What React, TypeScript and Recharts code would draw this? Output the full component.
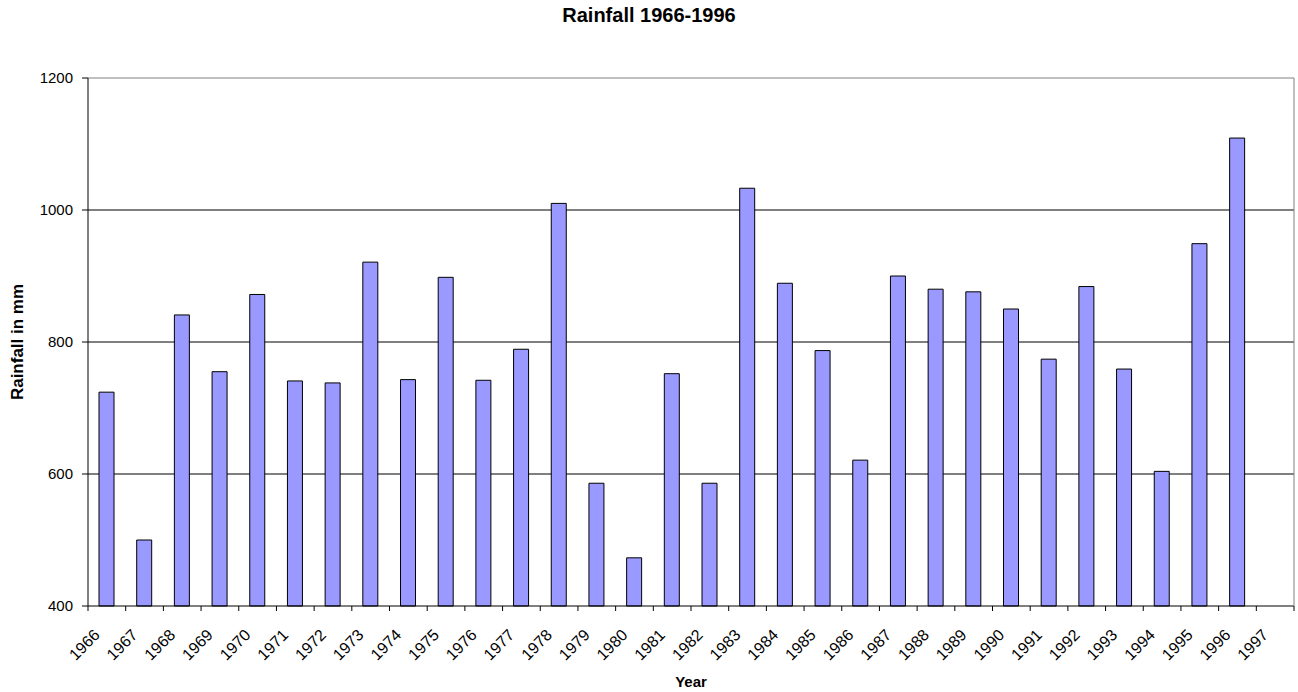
import { BarChart, Bar, XAxis, YAxis, CartesianGrid, ReferenceLine, Label } from 'recharts'

const years = [
  '1966', '1967', '1968', '1969', '1970', '1971', '1972', '1973',
  '1974', '1975', '1976', '1977', '1978', '1979', '1980', '1981',
  '1982', '1983', '1984', '1985', '1986', '1987', '1988', '1989',
  '1990', '1991', '1992', '1993', '1994', '1995', '1996', '1997',
]

// mm per year; 1997 has no reading (empty slot at the right end)
const rainfall: (number | null)[] = [
  724, 500, 841, 755, 872, 741, 738, 921,
  743, 898, 742, 789, 1010, 586, 473, 752,
  586, 1033, 889, 787, 621, 900, 880, 876,
  850, 774, 884, 759, 604, 949, 1109, null,
]

const yTicks = [400, 600, 800, 1000, 1200]
const gridValues = [600, 800, 1000]

const data = years.map((year, i) => ({ year, rainfall: rainfall[i] }))

const FONT = '"Liberation Sans", Arial, sans-serif'
const WIDTH = 1298
const HEIGHT = 692
const Y_AXIS_W = 88
const RIGHT_W = 4
const X_AXIS_H = 86
const BAND = (WIDTH - Y_AXIS_W - RIGHT_W) / years.length

function YearTick(props: any) {
  const { x, y, payload, index } = props
  const left = x - BAND / 2
  const tx = x - 6
  const ty = y + 30
  return (
    <g>
      <line x1={left} y1={y} x2={left} y2={y + 5} stroke="#000" />
      {index === years.length - 1 && (
        <line x1={x + BAND / 2} y1={y} x2={x + BAND / 2} y2={y + 5} stroke="#000" />
      )}
      <text
        x={tx}
        y={ty}
        transform={`rotate(-45, ${tx}, ${ty})`}
        textAnchor="end"
        fontSize={16}
        fontFamily={FONT}
        fill="#000"
      >
        {payload.value}
      </text>
    </g>
  )
}

export default function App() {
  return (
    <div
      style={{
        position: 'absolute',
        left: 0,
        top: 0,
        width: WIDTH,
        height: HEIGHT,
        background: '#fff',
        fontFamily: FONT,
      }}
    >
      <div
        style={{
          position: 'absolute',
          left: 0,
          top: 5,
          width: WIDTH,
          textAlign: 'center',
          fontSize: 20,
          lineHeight: '20px',
          fontWeight: 'bold',
          color: '#000',
        }}
      >
        Rainfall 1966-1996
      </div>
      <BarChart
        width={WIDTH}
        height={HEIGHT}
        data={data}
        margin={{ top: 78, right: 0, bottom: 0, left: 0 }}
      >
        <CartesianGrid
          horizontal
          vertical={false}
          horizontalValues={gridValues}
          stroke="#000"
          strokeOpacity={1}
        />
        <ReferenceLine y={1200} stroke="#808080" />
        <XAxis
          dataKey="year"
          height={X_AXIS_H}
          interval={0}
          tickLine={false}
          tickSize={0}
          tickMargin={0}
          axisLine={{ stroke: '#000' }}
          tick={<YearTick />}
        >
          <Label
            value="Year"
            position="insideBottom"
            offset={5}
            style={{ fontFamily: FONT, fontSize: 15, fontWeight: 'bold', fill: '#000' }}
          />
        </XAxis>
        <YAxis
          width={Y_AXIS_W}
          domain={[400, 1200]}
          ticks={yTicks}
          interval={0}
          tickSize={6}
          tickMargin={9}
          axisLine={{ stroke: '#000' }}
          tickLine={{ stroke: '#000' }}
          tick={{ fill: '#000', fontSize: 15, fontFamily: FONT }}
        >
          <Label
            value="Rainfall in mm"
            angle={-90}
            position="insideLeft"
            offset={17}
            style={{ textAnchor: 'middle', fontFamily: FONT, fontSize: 17, fontWeight: 'bold', fill: '#000' }}
          />
        </YAxis>
        <YAxis
          yAxisId="right"
          orientation="right"
          width={RIGHT_W}
          domain={[400, 1200]}
          tick={false}
          tickLine={false}
          axisLine={{ stroke: '#808080' }}
        />
        <Bar
          dataKey="rainfall"
          fill="#9999FF"
          stroke="#000"
          strokeWidth={1}
          barSize={15}
          isAnimationActive={false}
        />
      </BarChart>
    </div>
  )
}
